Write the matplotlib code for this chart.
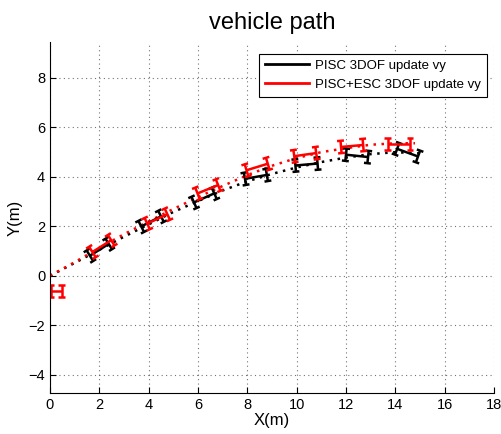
import numpy as np
import matplotlib.pyplot as plt

plt.rcParams["font.family"] = ["Liberation Sans", "DejaVu Sans"]

# dotted trajectories
path_black_x = [0, 1, 2, 3, 4, 5, 6, 7, 8, 9, 10, 11, 12, 13, 14, 15]
path_black_y = [0, 0.52, 1.05, 1.58, 2.08, 2.58, 3.02, 3.45, 3.82, 4.12, 4.38, 4.6, 4.78, 4.92, 5.0, 4.95]
path_red_x = [0, 1, 2, 3, 4, 5, 6, 7, 8, 9, 10, 11, 12, 13, 14, 14.8]
path_red_y = [0, 0.55, 1.13, 1.68, 2.2, 2.7, 3.18, 3.63, 4.07, 4.45, 4.76, 5.0, 5.16, 5.3, 5.36, 5.36]

# vehicle snapshots: centre x, centre y, heading [deg], wheelbase [m]
car_black_x = [2.0, 4.1, 6.25, 8.35, 10.4, 12.45, 14.5]
car_black_y = [1.05, 2.2, 3.15, 4.0, 4.5, 4.85, 4.98]
car_black_th = [32, 27, 24, 10, 5, -6, -20]
car_black_L = [0.9, 0.9, 0.9, 0.9, 0.9, 0.9, 0.9]

car_red_x = [0.25, 2.1, 4.35, 6.4, 8.4, 10.35, 12.25, 14.15]
car_red_y = [-0.62, 1.2, 2.3, 3.5, 4.4, 4.9, 5.25, 5.33]
car_red_th = [0, 32, 25, 22, 17, 8, 5, 0]
car_red_L = [0.45, 0.9, 0.9, 0.9, 0.9, 0.9, 0.9, 0.9]

W = 0.5   # track width
WL = 0.28  # wheel length


def draw_car(ax, cx, cy, th, L, color):
    t = np.deg2rad(th)
    u = np.array([np.cos(t), np.sin(t)])
    n = np.array([-np.sin(t), np.cos(t)])
    c = np.array([cx, cy])
    r = c - L / 2 * u
    f = c + L / 2 * u
    segs = [(r, f), (r - W / 2 * n, r + W / 2 * n), (f - W / 2 * n, f + W / 2 * n)]
    for a in (r, f):
        for s in (-1, 1):
            w = a + s * W / 2 * n
            segs.append((w - WL / 2 * u, w + WL / 2 * u))
    for p, q in segs:
        ax.plot([p[0], q[0]], [p[1], q[1]], color=color, lw=1.8, solid_capstyle="butt")


fig = plt.figure(figsize=(5.01, 4.34), dpi=100)
ax = fig.add_axes([0.0998, 0.0945, 0.886, 0.809])

ax.plot(path_black_x, path_black_y, color="k", lw=1.8, dashes=(1, 2.2))
ax.plot(path_red_x, path_red_y, color="r", lw=1.8, dashes=(1, 2.2))
for i in range(len(car_black_x)):
    draw_car(ax, car_black_x[i], car_black_y[i], car_black_th[i], car_black_L[i], "k")
for i in range(len(car_red_x)):
    draw_car(ax, car_red_x[i], car_red_y[i], car_red_th[i], car_red_L[i], "r")

h1, = ax.plot([], [], color="k", lw=2, label="PISC 3DOF update vy")
h2, = ax.plot([], [], color="r", lw=2, label="PISC+ESC 3DOF update vy")
leg = ax.legend(handles=[h1, h2], loc="upper right", fontsize=9.5, fancybox=False,
                edgecolor="k", framealpha=1, handlelength=3.3, handletextpad=0.5,
                borderpad=0.45, labelspacing=0.5, bbox_to_anchor=(1.0, 0.985))
leg.get_frame().set_linewidth(0.8)

ax.set_xlim(0, 18)
ax.set_ylim(-4.74, 9.46)
ax.set_xticks(range(0, 19, 2))
ax.set_yticks(range(-4, 9, 2))
ax.grid(True, color="k", lw=0.8, alpha=0.55, dashes=(1, 3))
ax.tick_params(direction="in", labelsize=10.5, length=4)
for s in ("top", "right"):
    ax.spines[s].set_visible(False)
ax.set_xlabel("X(m)", fontsize=12, labelpad=1)
ax.set_ylabel("Y(m)", fontsize=12, labelpad=4)
ax.set_title("vehicle path", fontsize=17, pad=9)

fig.savefig("out.png", dpi=100)
